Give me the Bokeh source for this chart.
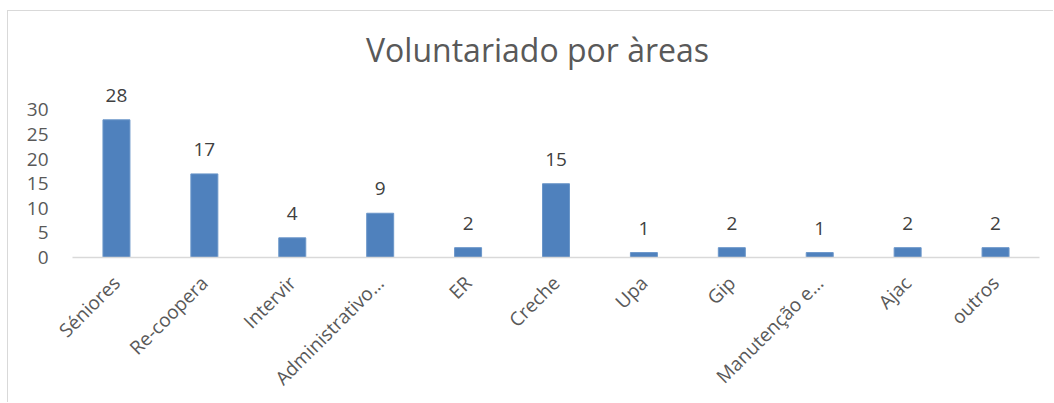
from bokeh.plotting import figure
from bokeh.models import ColumnDataSource, FixedTicker, Range1d, FactorRange, Label, LabelSet
from bokeh.core.properties import value
from bokeh.embed import file_html
from bokeh.resources import INLINE
import math

title_text = "Voluntariado por àreas"
categories = ["Séniores", "Re-coopera", "Intervir", "Administrativo…", "ER", "Creche",
              "Upa", "Gip", "Manutenção e…", "Ajac", "outros"]
values = [28, 17, 4, 9, 2, 15, 1, 2, 1, 2, 2]
y_ticks = [0, 5, 10, 15, 20, 25, 30]

FONT = "Open Sans"
TXT = "#595959"

src = ColumnDataSource(dict(cat=categories, val=values, lab=[str(v) for v in values]))

p = figure(x_range=FactorRange(*categories, range_padding=0), y_range=Range1d(0, 48.2),
           width=1046, height=392, output_backend="svg", toolbar_location=None,
           min_border_left=64, min_border_right=15, min_border_top=9, min_border_bottom=146)
p.styles = {"border-top": "1px solid #d9d9d9", "border-left": "1px solid #d9d9d9",
            "margin-left": "7px", "margin-top": "10px"}
p.outline_line_color = None
p.xgrid.grid_line_color = None
p.ygrid.grid_line_color = None

p.vbar(x="cat", top="val", width=0.307, source=src, fill_color="#4F81BD",
       line_color="#6b96c9", line_width=1)

labels = LabelSet(x="cat", y="val", text="lab", source=src, y_offset=18,
                  text_align="center", text_baseline="bottom",
                  text_font=value(FONT), text_font_size=value("19px"), text_color="#404040")
p.add_layout(labels)

p.add_layout(Label(x=5.29, y=42.3, text=title_text, text_align="center",
                   text_baseline="alphabetic", text_font=FONT,
                   text_font_size="32px", text_color=TXT))

p.yaxis.ticker = FixedTicker(ticks=y_ticks)
p.yaxis.axis_line_color = None
p.yaxis.major_tick_line_color = None
p.yaxis.minor_tick_line_color = None
p.yaxis.major_label_text_font = FONT
p.yaxis.major_label_text_font_size = "19px"
p.yaxis.major_label_text_color = TXT
p.yaxis.major_label_standoff = 18

p.xaxis.axis_line_color = "#d9d9d9"
p.xaxis.axis_line_width = 1.5
p.xaxis.major_tick_line_color = None
p.xaxis.minor_tick_line_color = None
p.xaxis.major_label_orientation = math.pi / 4
p.xaxis.major_label_text_font = FONT
p.xaxis.major_label_text_font_size = "19px"
p.xaxis.major_label_text_color = TXT
p.xaxis.major_label_standoff = 16

open("out.html", "w").write(file_html(p, INLINE))
